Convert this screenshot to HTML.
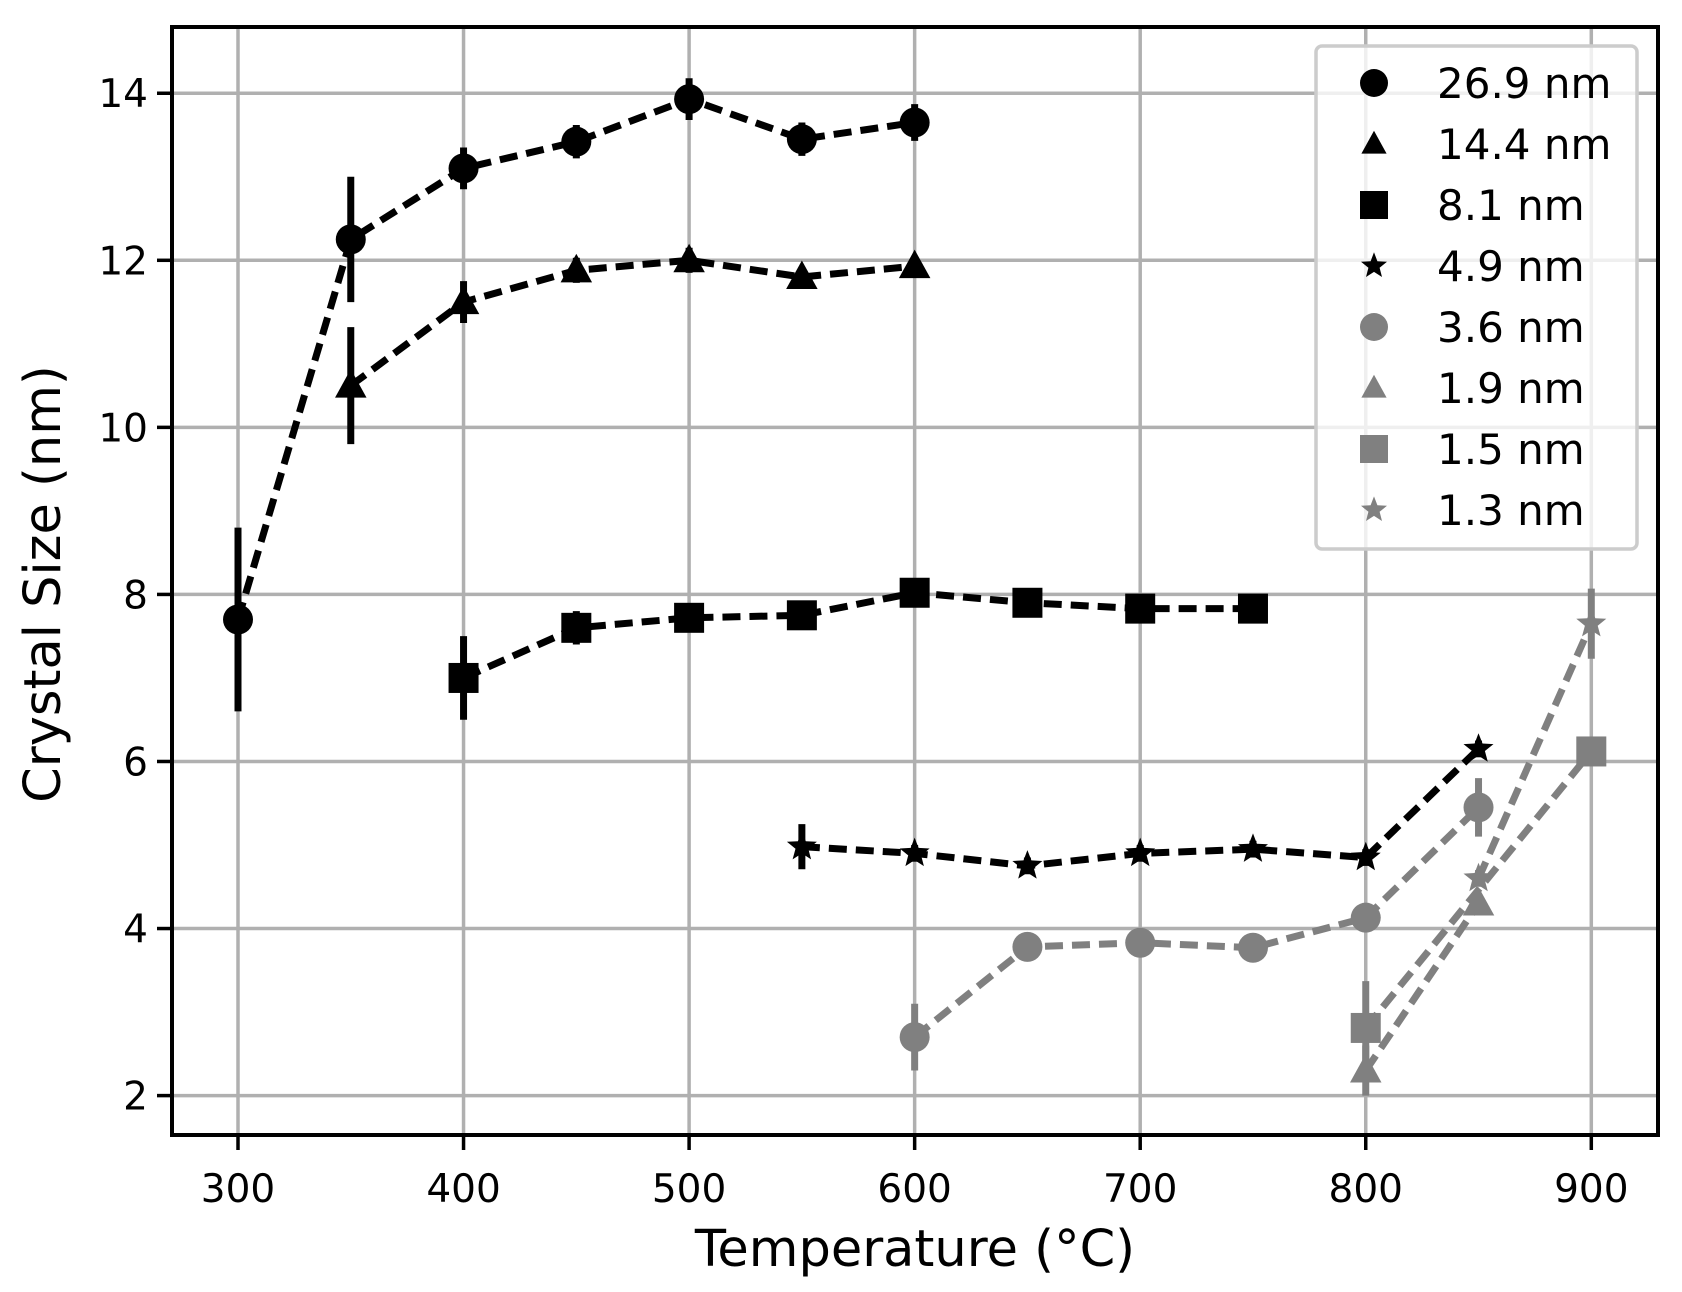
<!DOCTYPE html>
<html><head><meta charset="utf-8"><style>html,body{margin:0;padding:0;background:#fff}</style></head>
<body>
<svg id="s" width="1682" height="1287" xmlns="http://www.w3.org/2000/svg" font-family="DejaVu Sans, Liberation Sans, sans-serif"></svg>
<script>
const s=document.getElementById('s');
const X=t=>238+(t-300)*2.2555, Y=v=>1095.6-(v-2)*83.53;
let h='<rect width="1682" height="1287" fill="#fff"/>';
for(let t=300;t<=900;t+=100){h+=`<line x1="${X(t)}" y1="27" x2="${X(t)}" y2="1135" stroke="#b0b0b0" stroke-width="3.5"/>`;
 h+=`<line x1="${X(t)}" y1="1135" x2="${X(t)}" y2="1150" stroke="#000" stroke-width="3.5"/>`;
 h+=`<text x="${X(t)}" y="1202" font-size="39" text-anchor="middle">${t}</text>`;}
for(let v=2;v<=14;v+=2){h+=`<line x1="172" y1="${Y(v)}" x2="1658" y2="${Y(v)}" stroke="#b0b0b0" stroke-width="3.5"/>`;
 h+=`<line x1="157" y1="${Y(v)}" x2="172" y2="${Y(v)}" stroke="#000" stroke-width="3.5"/>`;
 h+=`<text x="148" y="${Y(v)+14}" font-size="39" text-anchor="end">${v}</text>`;}
const K='#000',G='#808080';
function mk(m,x,y,c,r){r=r||15;
 if(m=='o')return `<circle cx="${x}" cy="${y}" r="${r}" fill="${c}"/>`;
 if(m=='s')return `<rect x="${x-r}" y="${y-r}" width="${2*r}" height="${2*r}" fill="${c}"/>`;
 if(m=='^')return `<polygon points="${x},${y-r*1.1} ${x+r*1.05},${y+r*0.8} ${x-r*1.05},${y+r*0.8}" fill="${c}"/>`;
 let p=[];for(let i=0;i<10;i++){const a=-Math.PI/2+i*Math.PI/5,R=i%2?r*0.45:r*1.05;p.push((x+R*Math.cos(a)).toFixed(1)+','+(y+R*Math.sin(a)).toFixed(1));}
 return `<polygon points="${p.join(' ')}" fill="${c}"/>`;}
const S=[
['o',K,[[300,7.7,1.1],[350,12.25,0.75],[400,13.1,0.25],[450,13.42,0.2],[500,13.93,0.25],[550,13.45,0.2],[600,13.65,0.22]]],
['^',K,[[350,10.5,0.7],[400,11.5,0.25],[450,11.88,0.15],[500,12.0,0.15],[550,11.8,0.1],[600,11.93,0.1]]],
['s',K,[[400,7.0,0.5],[450,7.6,0.2],[500,7.72,0.1],[550,7.75,0.1],[600,8.02,0.1],[650,7.9,0.1],[700,7.83,0.1],[750,7.83,0.1]]],
['*',K,[[550,4.98,0.27],[600,4.9,0.1],[650,4.75,0.1],[700,4.9,0.1],[750,4.95,0.1],[800,4.85,0.1],[850,6.15,0.1]]],
['o',G,[[600,2.7,0.4],[650,3.78,0.1],[700,3.83,0.1],[750,3.77,0.1],[800,4.13,0.1],[850,5.45,0.35]]],
['^',G,[[800,2.3,0.3],[850,4.3,0.1]]],
['s',G,[[800,2.81,0.56],[900,6.12,0.15]]],
['*',G,[[850,4.6,0.1],[900,7.65,0.42]]]];
for(const [m,c,d] of S){
 h+=`<polyline points="${d.map(p=>X(p[0])+','+Y(p[1])).join(' ')}" fill="none" stroke="${c}" stroke-width="7" stroke-dasharray="18,9"/>`;
 for(const p of d){h+=`<line x1="${X(p[0])}" y1="${Y(p[1]-p[2])}" x2="${X(p[0])}" y2="${Y(p[1]+p[2])}" stroke="${c}" stroke-width="7"/>`;
  h+=mk(m,X(p[0]),Y(p[1]),c,15);}
}
h+=`<rect x="172" y="27" width="1486" height="1108" fill="none" stroke="#000" stroke-width="4"/>`;
h+=`<rect x="1316" y="46" width="321" height="503" rx="6" fill="#fff" fill-opacity="0.8" stroke="#cccccc" stroke-width="3.5"/>`;
const L=[['o',K,'26.9 nm'],['^',K,'14.4 nm'],['s',K,'8.1 nm'],['*',K,'4.9 nm'],['o',G,'3.6 nm'],['^',G,'1.9 nm'],['s',G,'1.5 nm'],['*',G,'1.3 nm']];
L.forEach((l,i)=>{const y=83+i*61;h+=mk(l[0],1374,y,l[1],l[0]=='^'?12:(l[0]=='*'?13:14));
 h+=`<text x="1437" y="${y+15}" font-size="42">${l[2]}</text>`;});
h+=`<text x="915" y="1266" font-size="51" text-anchor="middle">Temperature (°C)</text>`;
h+=`<text transform="translate(60,584) rotate(-90)" font-size="51" text-anchor="middle">Crystal Size (nm)</text>`;
s.innerHTML=h;
</script>
</body></html>
